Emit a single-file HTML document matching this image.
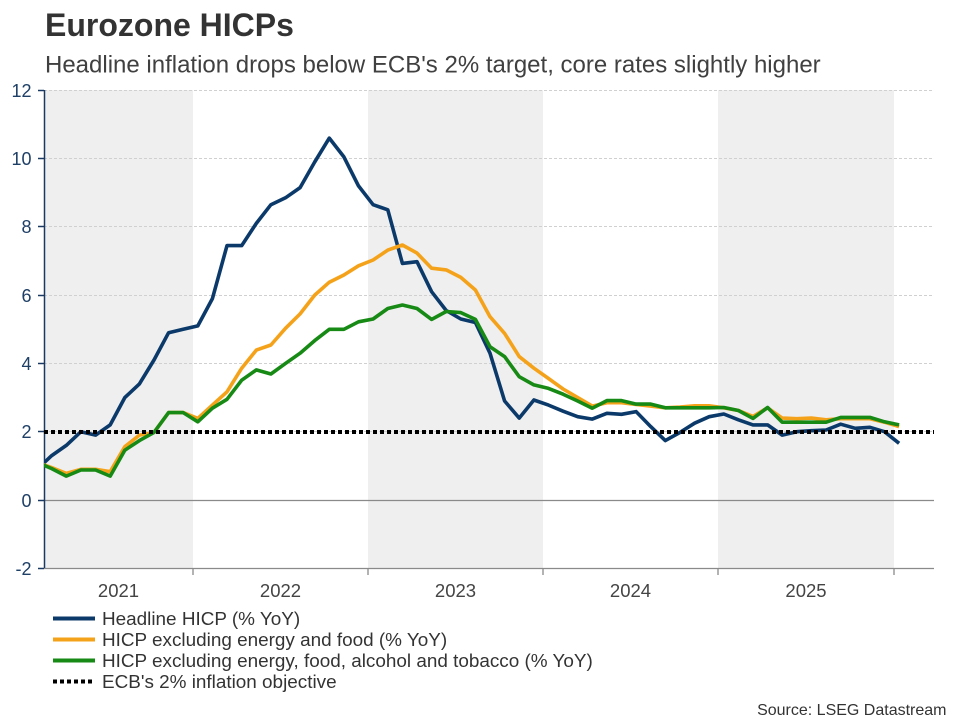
<!DOCTYPE html>
<html>
<head>
<meta charset="utf-8">
<style>
  html,body{margin:0;padding:0;background:#fff;}
  body{width:960px;height:720px;overflow:hidden;}
  svg{display:block;font-family:"Liberation Sans",Arial,sans-serif;}
</style>
</head>
<body>
<svg width="960" height="720" viewBox="0 0 960 720" xmlns="http://www.w3.org/2000/svg">
  <defs>
    <clipPath id="plot"><rect x="44" y="88" width="890" height="482"/></clipPath>
  </defs>

  <!-- Title -->
  <text x="45" y="36" font-size="32" font-weight="bold" fill="#333333">Eurozone HICPs</text>
  <text x="45" y="72.5" font-size="24" fill="#404040">Headline inflation drops below ECB's 2% target, core rates slightly higher</text>

  <!-- bands -->
  <rect x="44" y="90" width="149" height="478" fill="#efefef"/>
  <rect x="368" y="90" width="175" height="478" fill="#efefef"/>
  <rect x="718" y="90" width="176" height="478" fill="#efefef"/>

  <!-- gridlines -->
  <g stroke="#d0d0d0" stroke-width="1" stroke-dasharray="3 2">
    <line x1="44" y1="90.5" x2="934" y2="90.5"/>
    <line x1="44" y1="158.5" x2="934" y2="158.5"/>
    <line x1="44" y1="226.5" x2="934" y2="226.5"/>
    <line x1="44" y1="295.5" x2="934" y2="295.5"/>
    <line x1="44" y1="363.5" x2="934" y2="363.5"/>
    <line x1="44" y1="431.5" x2="934" y2="431.5"/>
  </g>
  <!-- zero line -->
  <line x1="44" y1="500.5" x2="934" y2="500.5" stroke="#8a8a8a" stroke-width="1.3"/>
  <!-- bottom axis -->
  <line x1="44" y1="568.5" x2="934" y2="568.5" stroke="#8a8a8a" stroke-width="1.3"/>
  <g stroke="#8a8a8a" stroke-width="1.3">
    <line x1="193" y1="568" x2="193" y2="575"/>
    <line x1="368" y1="568" x2="368" y2="575"/>
    <line x1="543" y1="568" x2="543" y2="575"/>
    <line x1="718" y1="568" x2="718" y2="575"/>
    <line x1="894" y1="568" x2="894" y2="575"/>
  </g>

  <!-- y axis -->
  <line x1="44.5" y1="90" x2="44.5" y2="568" stroke="#1b3a63" stroke-width="1.5"/>
  <g stroke="#1b3a63" stroke-width="1.5">
    <line x1="38" y1="90.5" x2="44" y2="90.5"/>
    <line x1="38" y1="158.5" x2="44" y2="158.5"/>
    <line x1="38" y1="226.5" x2="44" y2="226.5"/>
    <line x1="38" y1="295.5" x2="44" y2="295.5"/>
    <line x1="38" y1="363.5" x2="44" y2="363.5"/>
    <line x1="38" y1="431.5" x2="44" y2="431.5"/>
    <line x1="38" y1="500.5" x2="44" y2="500.5"/>
    <line x1="38" y1="568.5" x2="44" y2="568.5"/>
  </g>
  <g font-size="18" fill="#1e3f66" text-anchor="end">
    <text x="31.5" y="97">12</text>
    <text x="31.5" y="165">10</text>
    <text x="31.5" y="233">8</text>
    <text x="31.5" y="302">6</text>
    <text x="31.5" y="370">4</text>
    <text x="31.5" y="438">2</text>
    <text x="31.5" y="507">0</text>
    <text x="31.5" y="575">-2</text>
  </g>

  <!-- x labels -->
  <g font-size="18.5" fill="#444444" text-anchor="middle">
    <text x="118.5" y="597">2021</text>
    <text x="280.5" y="597">2022</text>
    <text x="455.5" y="597">2023</text>
    <text x="630.5" y="597">2024</text>
    <text x="806" y="597">2025</text>
  </g>

  <!-- series -->
  <g clip-path="url(#plot)" fill="none" stroke-width="3.6" stroke-linejoin="round" stroke-linecap="butt">
    <polyline stroke="#0b3a6a" points="22.5,469.3 37.1,469.3 51.7,455.6 66.3,445.4 80.9,431.7 95.6,435.1 110.2,424.9 124.8,397.6 139.4,383.9 154.0,360.0 168.6,332.7 183.2,329.3 197.8,325.9 212.4,298.6 227.0,245.6 241.7,245.6 256.3,223.4 270.9,204.7 285.5,197.8 300.1,187.6 314.7,162.0 329.3,138.1 343.9,156.9 358.5,185.9 373.1,204.7 387.8,209.8 402.4,263.4 417.0,261.7 431.6,291.7 446.2,310.5 460.8,319.0 475.4,322.5 490.0,353.2 504.6,401.0 519.2,418.1 533.9,400.0 548.5,405.1 563.1,411.2 577.7,416.7 592.3,419.1 606.9,413.3 621.5,414.3 636.1,411.6 650.7,426.6 665.3,440.6 680.0,432.4 694.6,423.2 709.2,416.7 723.8,414.0 738.4,419.8 753.0,424.9 767.6,424.9 782.2,435.1 796.8,431.7 811.4,430.7 826.1,430.0 840.7,424.2 855.3,428.3 869.9,427.3 884.5,431.7 899.1,443.3"/>
    <polyline stroke="#f5a21b" points="22.5,452.2 37.1,462.4 51.7,467.6 66.3,473.4 80.9,469.3 95.6,469.3 110.2,471.7 124.8,446.7 139.4,435.1 154.0,432.4 168.6,412.6 183.2,412.6 197.8,418.4 212.4,405.1 227.0,391.8 241.7,368.2 256.3,350.1 270.9,345.0 285.5,328.3 300.1,313.9 314.7,295.1 329.3,282.2 343.9,275.0 358.5,265.8 373.1,260.0 387.8,250.1 402.4,245.0 417.0,253.1 431.6,268.2 446.2,269.9 460.8,277.4 475.4,290.0 490.0,316.7 504.6,333.4 519.2,356.6 533.9,368.2 548.5,378.5 563.1,389.0 577.7,397.6 592.3,406.1 606.9,402.7 621.5,402.7 636.1,404.4 650.7,406.1 665.3,407.8 680.0,407.1 694.6,405.8 709.2,405.8 723.8,407.8 738.4,410.5 753.0,416.4 767.6,407.8 782.2,418.1 796.8,418.7 811.4,418.1 826.1,419.8 840.7,418.7 855.3,418.7 869.9,418.7 884.5,422.2 899.1,426.6"/>
    <polyline stroke="#168a14" points="22.5,452.2 37.1,462.4 51.7,468.6 66.3,476.1 80.9,470.0 95.6,470.0 110.2,476.1 124.8,450.2 139.4,440.6 154.0,432.4 168.6,412.6 183.2,412.6 197.8,421.8 212.4,408.2 227.0,399.3 241.7,380.2 256.3,369.9 270.9,374.0 285.5,363.4 300.1,353.2 314.7,340.6 329.3,329.3 343.9,329.3 358.5,321.8 373.1,319.0 387.8,308.5 402.4,305.0 417.0,308.5 431.6,319.4 446.2,311.5 460.8,312.6 475.4,319.4 490.0,346.7 504.6,356.6 519.2,376.7 533.9,384.9 548.5,388.4 563.1,394.2 577.7,401.0 592.3,408.2 606.9,400.6 621.5,400.6 636.1,404.1 650.7,404.1 665.3,407.8 680.0,407.8 694.6,407.8 709.2,407.8 723.8,407.5 738.4,410.5 753.0,418.4 767.6,407.5 782.2,422.2 796.8,422.2 811.4,422.2 826.1,422.2 840.7,417.4 855.3,417.4 869.9,417.4 884.5,421.8 899.1,424.9"/>
  </g>

  <!-- ECB target dotted line -->
  <line x1="44" y1="432" x2="934" y2="432" stroke="#000" stroke-width="4" stroke-dasharray="4 3"/>

  <!-- legend -->
  <g stroke-width="4">
    <line x1="53" y1="618.5" x2="95" y2="618.5" stroke="#0b3a6a"/>
    <line x1="53" y1="639.5" x2="95" y2="639.5" stroke="#f5a21b"/>
    <line x1="53" y1="660.5" x2="95" y2="660.5" stroke="#168a14"/>
    <line x1="53" y1="681.5" x2="95" y2="681.5" stroke="#000" stroke-dasharray="4 3"/>
  </g>
  <g font-size="18.9" fill="#333333">
    <text x="102" y="625">Headline HICP (% YoY)</text>
    <text x="102" y="646">HICP excluding energy and food (% YoY)</text>
    <text x="102" y="667">HICP excluding energy, food, alcohol and tobacco (% YoY)</text>
    <text x="102" y="688">ECB's 2% inflation objective</text>
  </g>

  <!-- source -->
  <text x="946.5" y="715" font-size="16" fill="#333333" text-anchor="end">Source: LSEG Datastream</text>
</svg>
</body>
</html>
